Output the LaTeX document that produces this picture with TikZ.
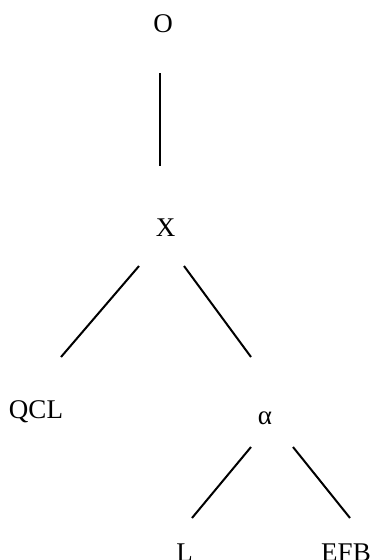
\documentclass[tikz,border=0pt]{standalone}
\usepackage{fontspec}
\setmainfont{Liberation Serif}
\begin{document}
\begin{tikzpicture}[x=1pt,y=-1pt]
	\tikzset{
		edge/.style={line width=2pt,color=black},
		word/.style={anchor=base,inner sep=0pt,font=\fontsize{27}{27}\selectfont}
	}
	\useasboundingbox (0,0) rectangle (371,560);
	\path
	(160,73) coordinate (Ob)
	(160,166) coordinate (Xt)
	(139,266) coordinate (Xl)
	(184,266) coordinate (Xr)
	(61,357) coordinate (Qt)
	(251,357) coordinate (At)
	(251,447) coordinate (Al)
	(293,447) coordinate (Ar)
	(192,518) coordinate (Lt)
	(350,518) coordinate (Et);
	\node[word] (O) at (163,32.5) {O};
	\node[word] (X) at (165.5,236) {X};
	\node[word] (Q) at (36,418) {QCL};
	\node[word] (A) at (265,424) {α};
	\node[word] (L) at (184.5,561) {L};
	\node[word] (E) at (346,561) {EFB};
	\draw[edge] (Ob) -- (Xt);
	\draw[edge] (Xl) -- (Qt);
	\draw[edge] (Xr) -- (At);
	\draw[edge] (Al) -- (Lt);
	\draw[edge] (Ar) -- (Et);
\end{tikzpicture}
\end{document}
